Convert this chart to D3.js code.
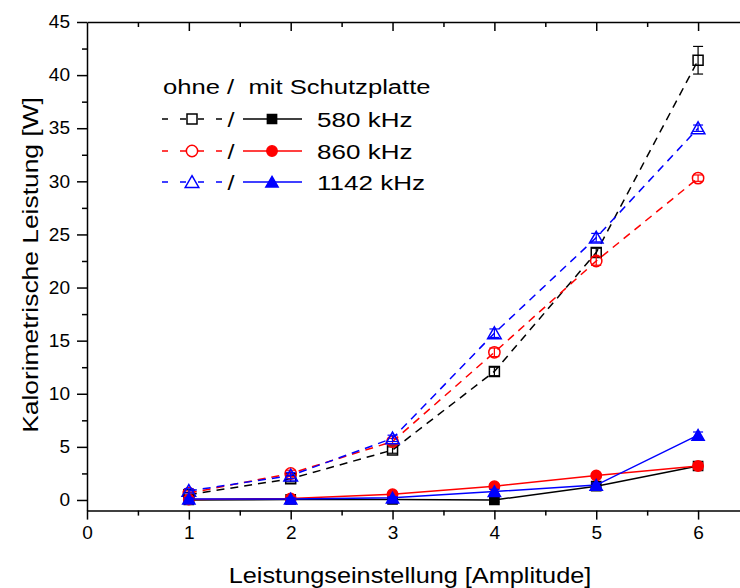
<!DOCTYPE html>
<html>
<head>
<meta charset="utf-8">
<script src="https://cdn.jsdelivr.net/npm/d3@7"></script>
<style>
  body { margin: 0; background: #fff; }
  svg { display: block; font-family: "Liberation Sans", Arial, sans-serif; }
</style>
</head>
<body>
<div id="chart"></div>
<script>
// Amplitude settings (x) and calorimetric power in W (y)
const amplitudes = [1, 2, 3, 4, 5, 6];

// without protection plate (open markers, dashed)
const ohne580 = [0.5, 2.0, 4.7, 12.1, 23.3, 41.4];
const ohne860 = [0.65, 2.5, 5.5, 13.9, 22.5, 30.3];
const ohne1142 = [0.85, 2.3, 5.8, 15.7, 24.7, 35.0];
const ohne580Err = [0.2, 0.3, 0.3, 0.4, 0.4, 1.3];
const ohne860Err = [0.2, 0.3, 0.3, 0.4, 0.4, 0.3];
const ohne1142Err = [0.2, 0.3, 0.3, 0.4, 0.4, 0.3];

// with protection plate (filled markers, solid)
const mit580 = [0.0, 0.05, 0.05, 0.0, 1.3, 3.2];
const mit860 = [0.05, 0.15, 0.55, 1.3, 2.3, 3.2];
const mit1142 = [0.1, 0.1, 0.2, 0.8, 1.4, 6.1];
const mitErr = [0.1, 0.1, 0.1, 0.2, 0.2, 0.3];

const xTicks = [0, 1, 2, 3, 4, 5, 6];
const xMinorTicks = [0.5, 1.5, 2.5, 3.5, 4.5, 5.5, 6.5];
const yTicks = [0, 5, 10, 15, 20, 25, 30, 35, 40, 45];
const yMinorTicks = [2.5, 7.5, 12.5, 17.5, 22.5, 27.5, 32.5, 37.5, 42.5];

const frequencies = ['580 kHz', '860 kHz', '1142 kHz'];
const colors = ['#000000', '#ff0000', '#0000ff'];
const shapes = ['square', 'circle', 'triangle'];

const width = 740, height = 588;
const plotLeft = 87, plotRight = 749, plotTop = 22, plotBottom = 510.6;
const tickStretch = 1.06;   // reference text is a bit wider than plain Arial

const svg = d3.select('#chart').append('svg')
    .attr('width', width)
    .attr('height', height);

const x = d3.scaleLinear().domain([0, 6.5]).range([plotLeft, plotRight]);
const y = d3.scaleLinear().domain([-1, 45]).range([plotBottom, plotTop]);

// stretched text helper
function addText(g, tx, ty, str, size, sx, anchor) {
    return g.append('text')
        .attr('transform', `translate(${tx},${ty}) scale(${sx},1)`)
        .attr('text-anchor', anchor || 'start')
        .attr('font-size', size)
        .style('white-space', 'pre')
        .text(str);
}

// Axes
function styleAxis(g) {
    g.selectAll('path, line').attr('stroke', '#000').attr('stroke-width', 1.5);
    g.selectAll('text').attr('font-size', 18).attr('fill', '#000')
        .attr('font-family', '"Liberation Sans", Arial, sans-serif');
}

svg.append('g')
    .attr('transform', `translate(0,${plotBottom})`)
    .call(d3.axisBottom(x).tickValues(xTicks).tickFormat(d3.format('d'))
        .tickSize(9).tickSizeOuter(0).tickPadding(7))
    .call(styleAxis)
    .call(g => g.selectAll('text').attr('transform', `scale(${tickStretch},1)`));
svg.append('g')
    .attr('transform', `translate(0,${plotBottom})`)
    .call(d3.axisBottom(x).tickValues(xMinorTicks).tickSize(5).tickFormat(''))
    .call(g => g.select('.domain').remove())
    .call(styleAxis);

// top frame with inward ticks
svg.append('g')
    .attr('transform', `translate(0,${plotTop})`)
    .call(d3.axisBottom(x).tickValues(xTicks.slice(1)).tickSize(9).tickSizeOuter(0).tickFormat(''))
    .call(styleAxis);
svg.append('g')
    .attr('transform', `translate(0,${plotTop})`)
    .call(d3.axisBottom(x).tickValues(xMinorTicks).tickSize(5).tickFormat(''))
    .call(g => g.select('.domain').remove())
    .call(styleAxis);

svg.append('g')
    .attr('transform', `translate(${plotLeft},0)`)
    .call(d3.axisLeft(y).tickValues(yTicks).tickSize(10).tickSizeOuter(0))
    .call(styleAxis)
    .call(g => g.selectAll('.tick text')
        .attr('x', -17 / tickStretch)
        .attr('transform', `scale(${tickStretch},1)`));
svg.append('g')
    .attr('transform', `translate(${plotLeft},0)`)
    .call(d3.axisLeft(y).tickValues(yMinorTicks).tickSize(5).tickFormat(''))
    .call(g => g.select('.domain').remove())
    .call(styleAxis);

// Axis titles
addText(svg, 410, 583, 'Leistungseinstellung [Amplitude]', 22, 1.15, 'middle');

svg.append('text')
    .attr('transform', 'translate(38,265) rotate(-90) scale(1.2,1)')
    .attr('text-anchor', 'middle')
    .attr('font-size', 22)
    .text('Kalorimetrische Leistung [W]');

// Marker helpers
function symbolPath(shape, filled) {
    const type = shape === 'square' ? d3.symbolSquare
        : shape === 'circle' ? d3.symbolCircle : d3.symbolTriangle;
    const size = shape === 'triangle' ? (filled ? 65 : 80) : (filled ? 85 : 100);
    return d3.symbol().type(type).size(size)();
}

function drawMarker(g, shape, color, filled, cx, cy) {
    const dy = shape === 'triangle' ? 1.5 : 0;
    g.append('path')
        .attr('d', symbolPath(shape, filled))
        .attr('transform', `translate(${cx},${cy + dy})`)
        .attr('fill', filled ? color : '#fff')
        .attr('fill-opacity', filled ? 1 : 0)
        .attr('stroke', color)
        .attr('stroke-width', 1.5);
}

const plot = svg.append('g');

const series = [
    { values: ohne580, err: ohne580Err, i: 0, filled: false },
    { values: ohne860, err: ohne860Err, i: 1, filled: false },
    { values: ohne1142, err: ohne1142Err, i: 2, filled: false },
    { values: mit580, err: mitErr, i: 0, filled: true },
    { values: mit860, err: mitErr, i: 1, filled: true },
    { values: mit1142, err: mitErr, i: 2, filled: true }
];

const line = d3.line().x(d => x(d[0])).y(d => y(d[1]));

series.forEach(s => {
    const color = colors[s.i];
    const pts = amplitudes.map((a, k) => [a, s.values[k], s.err[k]]);
    const g = plot.append('g');

    g.append('path')
        .datum(pts)
        .attr('d', line)
        .attr('fill', 'none')
        .attr('stroke', color)
        .attr('stroke-width', 1.5)
        .attr('stroke-dasharray', s.filled ? null : '8,6');

    // error bars
    pts.forEach(p => {
        const cx = x(p[0]);
        const y1 = y(p[1] + p[2]), y2 = y(p[1] - p[2]);
        g.append('line').attr('x1', cx).attr('x2', cx).attr('y1', y1).attr('y2', y2)
            .attr('stroke', color).attr('stroke-width', 1.2);
        [y1, y2].forEach(yy => g.append('line')
            .attr('x1', cx - 5).attr('x2', cx + 5).attr('y1', yy).attr('y2', yy)
            .attr('stroke', color).attr('stroke-width', 1.2));
    });

    pts.forEach(p => drawMarker(g, shapes[s.i], color, s.filled, x(p[0]), y(p[1])));
});

// Legend
const legend = svg.append('g');
addText(legend, 163, 94, 'ohne /  mit Schutzplatte', 21, 1.22);

const rowY = [119, 151, 182];
frequencies.forEach((label, i) => {
    const cy = rowY[i];
    legend.append('line')
        .attr('x1', 162).attr('x2', 222).attr('y1', cy).attr('y2', cy)
        .attr('stroke', colors[i]).attr('stroke-width', 1.5)
        .attr('stroke-dasharray', '6,12');
    drawMarker(legend, shapes[i], colors[i], false, 192, cy);
    addText(legend, 231, cy + 8, '/', 21, 1.2, 'middle');
    legend.append('line')
        .attr('x1', 243).attr('x2', 302).attr('y1', cy).attr('y2', cy)
        .attr('stroke', colors[i]).attr('stroke-width', 1.5);
    drawMarker(legend, shapes[i], colors[i], true, 272, cy);
    addText(legend, 317, cy + 8, label, 21, 1.24);
});
</script>
</body>
</html>
